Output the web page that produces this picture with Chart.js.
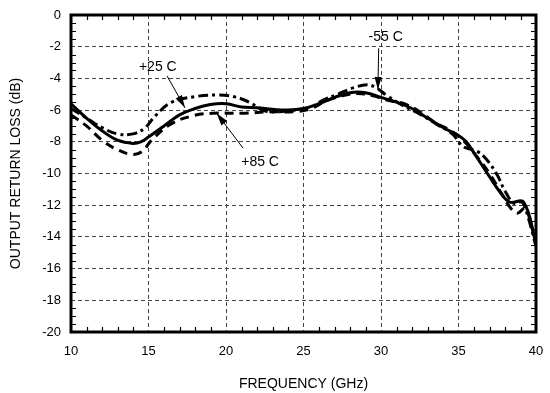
<!DOCTYPE html>
<html>
<head>
<meta charset="utf-8">
<script src="https://cdn.jsdelivr.net/npm/chart.js@4.4.1/dist/chart.umd.min.js"></script>
<style>
    html, body { margin: 0; padding: 0; background: #fff; }
    #wrap { width: 550px; height: 393px; }
</style>
</head>
<body>
<div id="wrap"><canvas id="chart"></canvas></div>
<script>
// Output return loss vs frequency, three temperatures
const freq25 = [10, 11, 12, 13, 14, 14.5, 15, 16, 17, 18, 19, 20, 21, 22, 23, 24, 25, 26, 27, 28, 29, 30, 31, 32, 33, 34, 35, 35.5, 36, 37, 37.7, 38.3, 39.2, 40];
const loss25 = [-5.6, -6.5, -7.3, -7.9, -8.1, -8.0, -7.7, -7.0, -6.3, -5.9, -5.65, -5.6, -5.8, -5.85, -5.95, -6.0, -5.9, -5.6, -5.2, -4.9, -4.9, -5.2, -5.5, -5.9, -6.5, -7.1, -7.6, -8.0, -8.7, -10.2, -11.2, -11.8, -11.8, -14.4];

const freqM55 = [10, 11, 12, 13, 14, 14.8, 15.4, 16.5, 18, 19.4, 20.5, 21.5, 22.5, 23.5, 24.5, 25.5, 26.3, 27.2, 28.2, 29.1, 29.7, 30.4, 31.4, 32.6, 33.6, 34.6, 35.3, 36.2, 36.8, 37.5, 38, 38.6, 39.1, 39.5, 40];
const lossM55 = [-5.9, -6.5, -7.1, -7.5, -7.5, -7.1, -6.4, -5.5, -5.15, -5.05, -5.15, -5.5, -6.05, -6.1, -6.0, -5.8, -5.35, -5.0, -4.6, -4.4, -4.6, -5.1, -5.7, -6.3, -6.9, -7.5, -8.3, -8.6, -9.1, -10.1, -11.1, -11.9, -11.8, -12.8, -14.6];

const freq85 = [10, 11, 12, 13, 14, 14.6, 15.2, 16.4, 17.9, 19.2, 21, 23, 24.5, 25.5, 26.5, 27.5, 28.5, 29.5, 30.5, 31.5, 32.5, 33.5, 34.5, 35.3, 36, 37, 37.8, 38.3, 38.8, 39.3, 39.7, 40];
const loss85 = [-6.3, -7.0, -7.9, -8.5, -8.8, -8.6, -7.9, -6.9, -6.35, -6.2, -6.2, -6.1, -6.1, -5.9, -5.4, -5.1, -4.95, -5.1, -5.4, -5.6, -6.1, -6.8, -7.3, -7.9, -8.7, -10.0, -11.3, -12.1, -12.5, -12.2, -13.3, -14.4];

const xTicks = [10, 15, 20, 25, 30, 35, 40];
const yTicks = [0, -2, -4, -6, -8, -10, -12, -14, -16, -18, -20];

// callout labels: text, label centre, arrow tail, arrow head (data units)
const callouts = [
    { text: '+25 C', at: [15.6, -3.3], from: [16.2, -3.85], to: [17.35, -5.85] },
    { text: '+85 C', at: [22.2, -9.3], from: [21.1, -8.4], to: [19.4, -6.2] },
    { text: '-55 C', at: [30.3, -1.4], from: [29.85, -2.1], to: [29.8, -4.7] }
];

const FONT = "'Liberation Sans', Arial, sans-serif";

const pts = (xs, ys) => xs.map((x, i) => ({ x: x, y: ys[i] }));

// frame, minor ticks and callouts
const decorations = {
    id: 'decorations',
    afterDatasetsDraw(chart) {
        const c = chart.ctx;
        const a = chart.chartArea;
        const xs = chart.scales.x, ys = chart.scales.y;
        c.save();
        c.strokeStyle = '#000';
        c.lineWidth = 1.2;
        c.beginPath();
        for (let v = 11; v < 40; v++) {
            if (v % 5 === 0) continue;
            const px = Math.round(xs.getPixelForValue(v)) + 0.5;
            c.moveTo(px, a.bottom); c.lineTo(px, a.bottom - 5);
            c.moveTo(px, a.top); c.lineTo(px, a.top + 5);
        }
        for (let v = -19.5; v < 0; v += 0.5) {
            if (v % 2 === 0) continue;
            const py = Math.round(ys.getPixelForValue(v)) + 0.5;
            c.moveTo(a.left, py); c.lineTo(a.left + 5, py);
            c.moveTo(a.right, py); c.lineTo(a.right - 5, py);
        }
        c.stroke();

        c.lineWidth = 3;
        c.strokeRect(a.left, a.top, a.right - a.left, a.bottom - a.top);

        c.font = '14px ' + FONT;
        c.fillStyle = '#000';
        c.textAlign = 'center';
        c.textBaseline = 'middle';
        callouts.forEach(o => {
            c.fillText(o.text, xs.getPixelForValue(o.at[0]), ys.getPixelForValue(o.at[1]));
            const x0 = xs.getPixelForValue(o.from[0]), y0 = ys.getPixelForValue(o.from[1]);
            const x1 = xs.getPixelForValue(o.to[0]), y1 = ys.getPixelForValue(o.to[1]);
            const ang = Math.atan2(y1 - y0, x1 - x0);
            c.lineWidth = 1;
            c.beginPath();
            c.moveTo(x0, y0); c.lineTo(x1, y1);
            c.stroke();
            c.beginPath();
            c.moveTo(x1, y1);
            c.lineTo(x1 - 13 * Math.cos(ang - 0.28), y1 - 13 * Math.sin(ang - 0.28));
            c.lineTo(x1 - 13 * Math.cos(ang + 0.28), y1 - 13 * Math.sin(ang + 0.28));
            c.closePath();
            c.fill();
        });
        c.restore();
    }
};

const lineStyle = {
    showLine: true,
    borderColor: '#000',
    backgroundColor: '#000',
    borderWidth: 3,
    pointRadius: 0,
    fill: false,
    tension: 0.4
};

new Chart(document.getElementById('chart'), {
    type: 'scatter',
    data: {
        datasets: [
            Object.assign({ label: '+25 C', data: pts(freq25, loss25) }, lineStyle),
            Object.assign({ label: '-55 C', data: pts(freqM55, lossM55), borderDash: [10, 4, 3, 4] }, lineStyle),
            Object.assign({ label: '+85 C', data: pts(freq85, loss85), borderDash: [9, 6] }, lineStyle)
        ]
    },
    options: {
        responsive: true,
        maintainAspectRatio: false,
        animation: false,
        layout: { padding: { top: 15, right: 14, left: 0, bottom: 0 } },
        plugins: {
            legend: { display: false },
            tooltip: { enabled: false }
        },
        scales: {
            x: {
                type: 'linear',
                min: 10,
                max: 40,
                afterFit: s => { s.height = 61; s.paddingLeft = 0; s.paddingRight = 0; },
                afterBuildTicks: s => { s.ticks = xTicks.map(v => ({ value: v })); },
                border: { display: false, dash: [4, 3] },
                grid: { color: '#444', lineWidth: 1, drawTicks: false },
                ticks: { color: '#000', font: { family: FONT, size: 13 }, padding: 12, maxRotation: 0 },
                title: {
                    display: true,
                    text: 'FREQUENCY (GHz)',
                    color: '#000',
                    font: { family: FONT, size: 14 },
                    padding: { top: 10, bottom: 0 }
                }
            },
            y: {
                type: 'linear',
                min: -20,
                max: 0,
                afterFit: s => { s.width = 71; s.paddingTop = 0; s.paddingBottom = 0; },
                afterBuildTicks: s => { s.ticks = yTicks.map(v => ({ value: v })); },
                border: { display: false, dash: [4, 3] },
                grid: { color: '#444', lineWidth: 1, drawTicks: false },
                ticks: { color: '#000', font: { family: FONT, size: 13 }, padding: 10 },
                title: {
                    display: true,
                    text: 'OUTPUT RETURN LOSS (dB)',
                    color: '#000',
                    font: { family: FONT, size: 14 },
                    padding: { top: 8, bottom: 0 }
                }
            }
        }
    },
    plugins: [decorations]
});
</script>
</body>
</html>
